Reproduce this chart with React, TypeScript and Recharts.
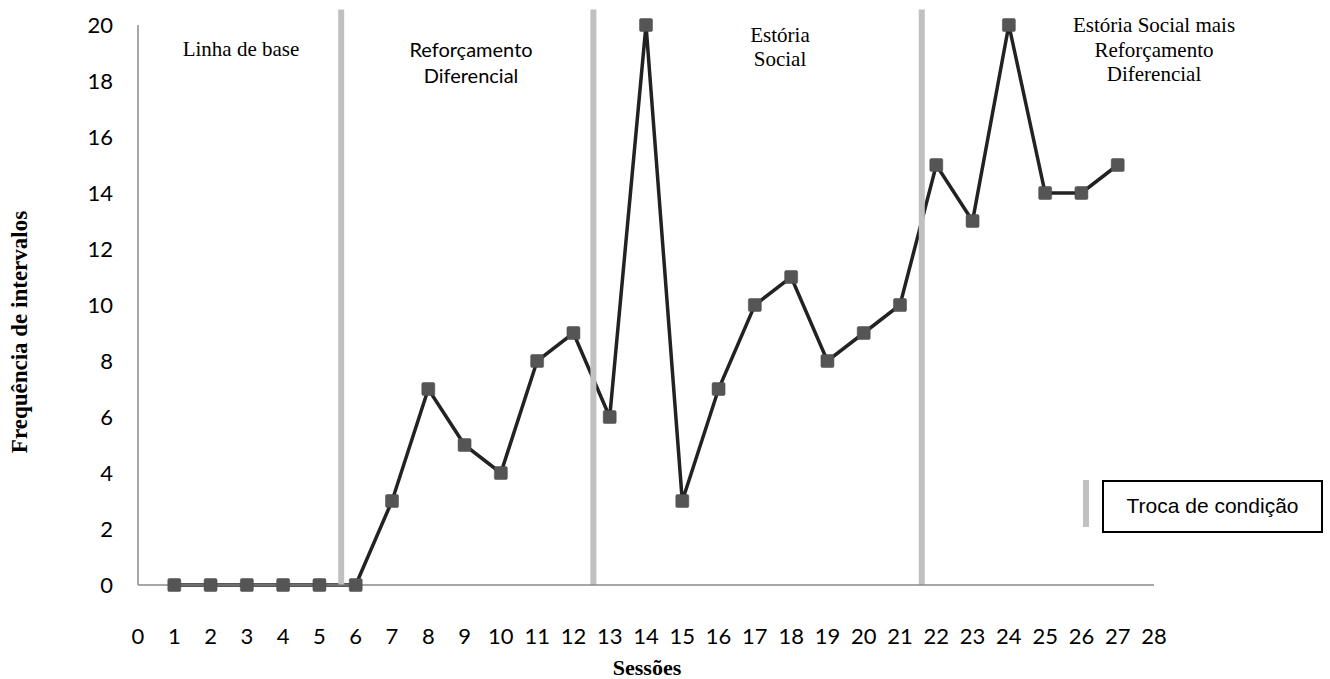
import React from "react";
import { LineChart, Line, XAxis, YAxis, ReferenceLine } from "recharts";

// sessions and interval frequency per session
const sessions = [1, 2, 3, 4, 5, 6, 7, 8, 9, 10, 11, 12, 13, 14, 15, 16, 17, 18, 19, 20, 21, 22, 23, 24, 25, 26, 27];
const frequency = [0, 0, 0, 0, 0, 0, 3, 7, 5, 4, 8, 9, 6, 20, 3, 7, 10, 11, 8, 9, 10, 15, 13, 20, 14, 14, 15];

const xTicks = [0, 1, 2, 3, 4, 5, 6, 7, 8, 9, 10, 11, 12, 13, 14, 15, 16, 17, 18, 19, 20, 21, 22, 23, 24, 25, 26, 27, 28];
const yTicks = [0, 2, 4, 6, 8, 10, 12, 14, 16, 18, 20];

// where the condition changes (between sessions)
const phaseChanges = [5.6, 12.55, 21.6];
const phaseTop = 20.55;

const data = sessions.map((s, i) => ({ session: s, freq: frequency[i] }));

const SERIF = "'Liberation Serif', 'Times New Roman', serif";
const SANS = "Lato, 'Open Sans', sans-serif";
const ARIAL = "'Liberation Sans', Arial, sans-serif";

function SquareDot(props: any) {
  const { cx, cy, index } = props;
  if (cx == null || cy == null) return null;
  return <rect key={index} x={cx - 6.5} y={cy - 6.5} width={13} height={13} rx={1.5} fill="#555555" stroke="#4a4a4a" strokeWidth={0.5} />;
}

function LegendBox() {
  return (
    <div style={{ position: "absolute", left: 1083, top: 480, width: 245, height: 54 }}>
      <div style={{ position: "absolute", left: 0, top: 0, width: 6, height: 47, background: "#c0c0c0" }} />
      <div
        style={{
          position: "absolute",
          left: 19,
          top: 0,
          width: 217,
          height: 49,
          border: "2px solid #000",
          boxSizing: "content-box",
          fontFamily: ARIAL,
          fontSize: 21,
          lineHeight: "47px",
          textAlign: "center",
          color: "#000",
        }}
      >
        Troca de condição
      </div>
    </div>
  );
}

const phaseLabel: React.CSSProperties = {
  position: "absolute",
  transform: "translateX(-50%)",
  textAlign: "center",
  whiteSpace: "nowrap",
  color: "#000",
};

export default function App() {
  return (
    <div style={{ position: "absolute", left: 0, top: 0, width: 1330, height: 679, background: "#fff" }}>
      <LineChart width={1330} height={679} data={data} margin={{ top: 25, right: 176, bottom: 34, left: 0 }}>
        <XAxis
          type="number"
          dataKey="session"
          domain={[0, 28]}
          ticks={xTicks}
          interval={0}
          height={60}
          stroke="#8a8a8a"
          strokeWidth={1.5}
          tickLine={false}
          tickSize={0}
          tickMargin={43}
          tick={{ fontSize: 22, fill: "#000", fontFamily: SANS }}
        />
        <YAxis
          domain={[0, 20]}
          ticks={yTicks}
          interval={0}
          width={138}
          stroke="#8a8a8a"
          strokeWidth={1.5}
          tickLine={false}
          tickSize={0}
          tickMargin={25}
          tick={{ fontSize: 22, fill: "#000", fontFamily: SANS }}
        />
        <Line
          type="linear"
          dataKey="freq"
          stroke="#222222"
          strokeWidth={3.5}
          dot={SquareDot}
          activeDot={false}
          isAnimationActive={false}
        />
        {phaseChanges.map((x) => (
          <ReferenceLine
            key={x}
            segment={[
              { x, y: 0 },
              { x, y: phaseTop },
            ]}
            stroke="#c0c0c0"
            strokeWidth={6}
            ifOverflow="visible"
          />
        ))}
      </LineChart>

      <LegendBox />

      {/* phase names */}
      <div style={{ ...phaseLabel, left: 241, top: 37, fontFamily: SERIF, fontSize: 21, lineHeight: "24px" }}>
        Linha de base
      </div>
      <div style={{ ...phaseLabel, left: 471, top: 36, fontFamily: SANS, fontSize: 20, lineHeight: "26px" }}>
        Reforçamento
        <br />
        Diferencial
      </div>
      <div style={{ ...phaseLabel, left: 780, top: 23, fontFamily: SERIF, fontSize: 21, lineHeight: "24px" }}>
        Estória
        <br />
        Social
      </div>
      <div style={{ ...phaseLabel, left: 1154, top: 13, fontFamily: SERIF, fontSize: 21, lineHeight: "24.5px" }}>
        Estória Social mais
        <br />
        Reforçamento
        <br />
        Diferencial
      </div>

      {/* axis titles */}
      <div
        style={{
          position: "absolute",
          left: 20,
          top: 332,
          transform: "translate(-50%, -50%) rotate(-90deg)",
          whiteSpace: "nowrap",
          fontFamily: SERIF,
          fontWeight: "bold",
          fontSize: 23,
          color: "#000",
        }}
      >
        Frequência de intervalos
      </div>
      <div
        style={{
          position: "absolute",
          left: 647,
          top: 668,
          transform: "translate(-50%, -50%)",
          whiteSpace: "nowrap",
          fontFamily: SERIF,
          fontWeight: "bold",
          fontSize: 22,
          color: "#000",
        }}
      >
        Sessões
      </div>
    </div>
  );
}
